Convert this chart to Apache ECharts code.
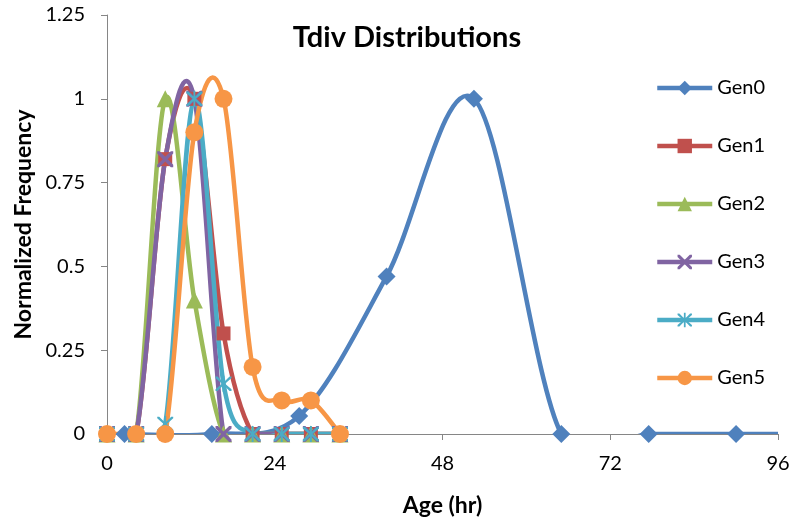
<!DOCTYPE html>
<html>
<head>
<meta charset="utf-8">
<script src="https://cdn.jsdelivr.net/npm/echarts@6/dist/echarts.min.js"></script>
<style>
html,body{margin:0;padding:0;background:#fff;}
#chart{width:793px;height:522px;}
</style>
</head>
<body>
<div id="chart"></div>
<script>
// ---- data ----
const seriesNames = ['Gen0', 'Gen1', 'Gen2', 'Gen3', 'Gen4', 'Gen5'];
const gen0Ages = [2.5, 15, 27.5, 40, 52.5, 65, 77.5, 90, 102.5];
const gen0Values = [0, 0, 0.054, 0.47, 1.0, 0, 0, 0, 0];
const binAges = [0, 4.17, 8.33, 12.5, 16.67, 20.83, 25, 29.17, 33.33];
const gen1Values = [0, 0, 0.82, 1.0, 0.30, 0, 0, 0, 0];
const gen2Values = [0, 0, 1.0, 0.40, 0, 0, 0, 0, 0];
const gen3Values = [0, 0, 0.82, 1.0, 0, 0, 0, 0, 0];
const gen4Values = [0, 0, 0.03, 1.0, 0.15, 0, 0, 0, 0];
const gen5Values = [0, 0, 0, 0.90, 1.0, 0.20, 0.10, 0.10, 0];
const xTicks = [0, 24, 48, 72, 96];
const yTicks = [0, 0.25, 0.5, 0.75, 1, 1.25];

// ---- styling ----
const FONT = 'Lato, "Open Sans", sans-serif';
const colors = ['#4F81BD', '#C0504D', '#9BBB59', '#8064A2', '#4BACC6', '#F79646'];
const xPath = 'path://M0,0 L3,0 L10,7 L17,0 L20,0 L20,3 L13,10 L20,17 L20,20 L17,20 L10,13 L3,20 L0,20 L0,17 L7,10 L0,3 Z';
const starPath = 'path://M0,1 L2.5,1 L10,8.5 L17.5,1 L20,1 L20,3 L12,10 L20,17 L20,19 L17.5,19 L10,11.5 L2.5,19 L0,19 L0,17 L8,10 L0,3 Z M8.8,0 L11.2,0 L11.2,20 L8.8,20 Z';
const symbols = ['diamond', 'rect', 'triangle', xPath, starPath, 'circle'];
const symbolSizes = [18, 14, 17, 16, 16, 18];
const LINE_W = 4.5;

function pairs(xs, ys) { return xs.map((x, i) => [x, ys[i]]); }
const allData = [
  pairs(gen0Ages, gen0Values),
  pairs(binAges, gen1Values),
  pairs(binAges, gen2Values),
  pairs(binAges, gen3Values),
  pairs(binAges, gen4Values),
  pairs(binAges, gen5Values)
];

// Excel-like smoothed line (Catmull-Rom Bezier in screen space), via the axes' coord()
function makeCurveRenderer(data, color) {
  return function (params, api) {
    if (params.dataIndex !== 0) return null;
    const p = data.map(d => api.coord(d));
    const n = p.length;
    let path = 'M' + p[0][0] + ',' + p[0][1];
    for (let i = 0; i < n - 1; i++) {
      const p0 = p[Math.max(i - 1, 0)], p1 = p[i], p2 = p[i + 1], p3 = p[Math.min(i + 2, n - 1)];
      const c1x = p1[0] + (p2[0] - p0[0]) / 6, c1y = p1[1] + (p2[1] - p0[1]) / 6;
      const c2x = p2[0] - (p3[0] - p1[0]) / 6, c2y = p2[1] - (p3[1] - p1[1]) / 6;
      path += ' C' + c1x + ',' + c1y + ' ' + c2x + ',' + c2y + ' ' + p2[0] + ',' + p2[1];
    }
    return {
      type: 'path',
      shape: {pathData: path},
      style: {fill: null, stroke: color, lineWidth: LINE_W, lineJoin: 'round', lineCap: 'round'},
      silent: true
    };
  };
}

const series = [];
seriesNames.forEach((name, i) => {
  series.push({
    name: name + ' curve',
    type: 'custom',
    data: allData[i],
    encode: {x: 0, y: 1},
    clip: true,
    renderItem: makeCurveRenderer(allData[i], colors[i]),
    silent: true
  });
  series.push({
    name: name,
    type: 'line',
    data: allData[i],
    clip: true,
    symbol: symbols[i],
    symbolSize: symbolSizes[i],
    showAllSymbol: true,
    lineStyle: {width: LINE_W, color: colors[i], opacity: 0},
    itemStyle: {color: colors[i], borderWidth: 0},
    emphasis: {disabled: true}
  });
});

const chart = echarts.init(document.getElementById('chart'), null, {renderer: 'canvas'});
const option = {
  animation: false,
  backgroundColor: '#ffffff',
  title: {
    text: 'Tdiv Distributions',
    left: 402,
    textAlign: 'center',
    top: 18,
    textStyle: {fontFamily: FONT, fontWeight: 'bold', fontSize: 29, color: '#000'}
  },
  legend: {
    orient: 'vertical',
    left: 655,
    top: 78,
    padding: 0,
    itemWidth: 55,
    itemHeight: 18,
    itemGap: 38,
    lineStyle: {opacity: 1, width: LINE_W},
    textStyle: {fontFamily: FONT, fontSize: 20, lineHeight: 20, color: '#000'},
    data: seriesNames
  },
  grid: {left: 107, right: 15, top: 15, bottom: 87, containLabel: false},
  xAxis: {
    type: 'value',
    min: xTicks[0],
    max: xTicks[xTicks.length - 1],
    interval: 24,
    name: 'Age (hr)',
    nameLocation: 'middle',
    nameGap: 60,
    nameTextStyle: {fontFamily: FONT, fontWeight: 'bold', fontSize: 23, color: '#000'},
    axisLine: {show: true, lineStyle: {color: '#868686', width: 1}},
    axisTick: {show: true, length: 6, lineStyle: {color: '#868686'}},
    axisLabel: {fontFamily: FONT, fontSize: 20, color: '#000', margin: 20},
    splitLine: {show: false}
  },
  yAxis: {
    type: 'value',
    min: yTicks[0],
    max: yTicks[yTicks.length - 1],
    interval: 0.25,
    name: 'Normalized Frequency',
    nameLocation: 'middle',
    nameGap: 72,
    nameTextStyle: {fontFamily: FONT, fontWeight: 'bold', fontSize: 23, color: '#000'},
    axisLine: {show: true, lineStyle: {color: '#868686', width: 1}},
    axisTick: {show: true, length: 6, lineStyle: {color: '#868686'}},
    axisLabel: {fontFamily: FONT, fontSize: 20, color: '#000', margin: 22},
    splitLine: {show: false}
  },
  series: series
};
chart.setOption(option);
</script>
</body>
</html>
